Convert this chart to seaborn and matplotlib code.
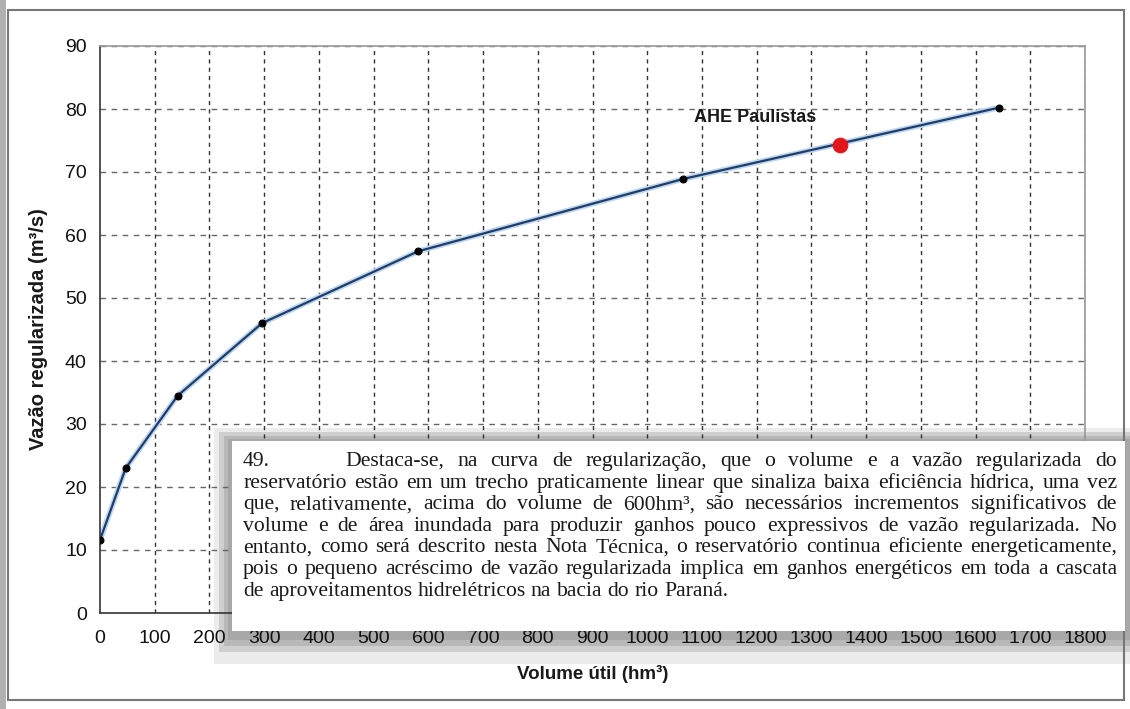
import matplotlib
matplotlib.use("Agg")
import matplotlib.pyplot as plt
import seaborn as sns
import pandas as pd
from matplotlib.patches import Rectangle

# Curve values
volume = [0, 47, 142, 296, 581, 1066, 1642]
vazao = [11.6, 23.0, 34.5, 46.0, 57.4, 68.9, 80.2]
paulistas_volume = [1353]
paulistas_vazao = [74.3]
paulistas_label = "AHE Paulistas"
x_ticks = list(range(0, 1900, 100))
y_ticks = list(range(0, 100, 10))

note_lines = [
    "reservatório estão em um trecho praticamente linear que sinaliza baixa eficiência hídrica, uma vez",
    "que, relativamente, acima do volume de 600hm³, são necessários incrementos significativos de",
    "volume e de área inundada para produzir ganhos pouco expressivos de vazão regularizada. No",
    "entanto, como será descrito nesta Nota Técnica, o reservatório continua eficiente energeticamente,",
    "pois o pequeno acréscimo de vazão regularizada implica em ganhos energéticos em toda a cascata",
    "de aproveitamentos hidrelétricos na bacia do rio Paraná.",
]
note_first_num = "49."
note_first = "Destaca-se, na curva de regularização, que o volume e a vazão regularizada do"

df = pd.DataFrame({"volume": volume, "vazao": vazao})
df_red = pd.DataFrame({"volume": paulistas_volume, "vazao": paulistas_vazao})

sns.set_style("white")
plt.rcParams["font.family"] = ["Liberation Sans", "DejaVu Sans"]

W, H = 1130, 709
fig = plt.figure(figsize=(W / 100, H / 100), dpi=100, facecolor="white")
ax = fig.add_axes([100 / W, 1 - 613 / H, 985 / W, 567 / H])
ax.set_facecolor("none")

# grid
for xv in x_ticks[1:]:
    ax.axvline(xv, color="#333333", lw=1.0, ls=(0, (3, 3)), zorder=1)
for yv in y_ticks[1:]:
    ax.axhline(yv, color="#666666", lw=1.0, ls=(0, (4, 4)), zorder=1)

# glow + curve
sns.lineplot(data=df, x="volume", y="vazao", ax=ax, color="#bcd6ee", lw=4, zorder=2, legend=False)
sns.lineplot(data=df, x="volume", y="vazao", ax=ax, color="#203c6a", lw=1.6,
             marker="o", markersize=5, markerfacecolor="black", markeredgecolor="black",
             zorder=3, legend=False)
sns.scatterplot(data=df_red, x="volume", y="vazao", ax=ax, color="#e3161c", s=110,
                edgecolor="#e3161c", zorder=4, legend=False)
ax.text(1085, 78.6, paulistas_label, fontsize=13, fontweight="bold", color="#1a1a1a",
        va="center", ha="left")

ax.set_xlim(0, 1800)
ax.set_ylim(0, 90)
ax.set_xticks(x_ticks)
ax.set_yticks(y_ticks)
ax.tick_params(axis="both", direction="inout", length=7, width=1, colors="#333333",
               labelsize=14, labelcolor="#111111", pad=6)
ax.tick_params(axis="x", pad=9)
for s in ["left", "bottom"]:
    ax.spines[s].set_color("#333333")
    ax.spines[s].set_linewidth(1.2)
for s in ["top", "right"]:
    ax.spines[s].set_color("#999999")
    ax.spines[s].set_linewidth(1.2)
ax.set_xlabel("Volume útil (hm³)", fontsize=13.5, fontweight="bold", color="#1a1a1a", labelpad=13)
ax.set_ylabel("Vazão regularizada (m³/s)", fontsize=14.5, fontweight="bold", color="#1a1a1a",
              labelpad=12)

# outer frame of the scanned figure
fig.patches.append(Rectangle((0, 0), 6 / W, 1, transform=fig.transFigure,
                             facecolor="#b0b0b0", edgecolor="none", zorder=0))
fig.patches.append(Rectangle((8 / W, 1 - 700 / H), 1116 / W, 690 / H, transform=fig.transFigure,
                             facecolor="none", edgecolor="#777777", lw=1.5, zorder=0))


def px_rect(x0, y0, x1, y1, **kw):
    return Rectangle((x0 / W, 1 - y1 / H), (x1 - x0) / W, (y1 - y0) / H,
                     transform=fig.transFigure, **kw)


# shadow behind the note box (under the axes so the tick labels stay on top)
fig.patches.append(px_rect(214, 428, 1130, 664, facecolor="#ececec", edgecolor="none", zorder=-2))
fig.patches.append(px_rect(219, 432, 1130, 652, facecolor="#cfcfcf", edgecolor="none", zorder=-2))
fig.patches.append(px_rect(224, 436, 1130, 646, facecolor="#b8b8b8", edgecolor="none", zorder=-2))
fig.patches.append(px_rect(228, 439, 1130, 640, facecolor="#a8a8a8", edgecolor="none", zorder=-2))
# white note box on top of the plot
fig.patches.append(px_rect(232, 441, 1125, 631, facecolor="white", edgecolor="none", zorder=6))

serif = ["Liberation Serif", "DejaVu Serif"]
fs = 15.6
renderer = fig.canvas.get_renderer()


def word_width(w):
    t = fig.text(0, 0, w, fontsize=fs, family=serif)
    bb = t.get_window_extent(renderer=renderer)
    t.remove()
    return bb.width


def place_line(words, x0, x1, ypix, justify=True):
    widths = [word_width(w) for w in words]
    if justify and len(words) > 1:
        gap = (x1 - x0 - sum(widths)) / (len(words) - 1)
    else:
        gap = word_width("a b") - word_width("ab")
    x = x0
    for w, wd in zip(words, widths):
        fig.text(x / W, 1 - ypix / H, w, fontsize=fs, family=serif, color="#1a1a1a",
                 va="baseline", ha="left", zorder=7)
        x += wd + gap


left, right = 243, 1117
base0 = 466
step = 21.6
fig.text(left / W, 1 - base0 / H, note_first_num, fontsize=fs, family=serif, color="#1a1a1a",
         va="baseline", ha="left", zorder=7)
place_line(note_first.split(), 345, right, base0)
for i, line in enumerate(note_lines):
    last = i == len(note_lines) - 1
    place_line(line.split(), left, right, base0 + step * (i + 1), justify=not last)

fig.savefig("out.png", dpi=100, facecolor="white")
